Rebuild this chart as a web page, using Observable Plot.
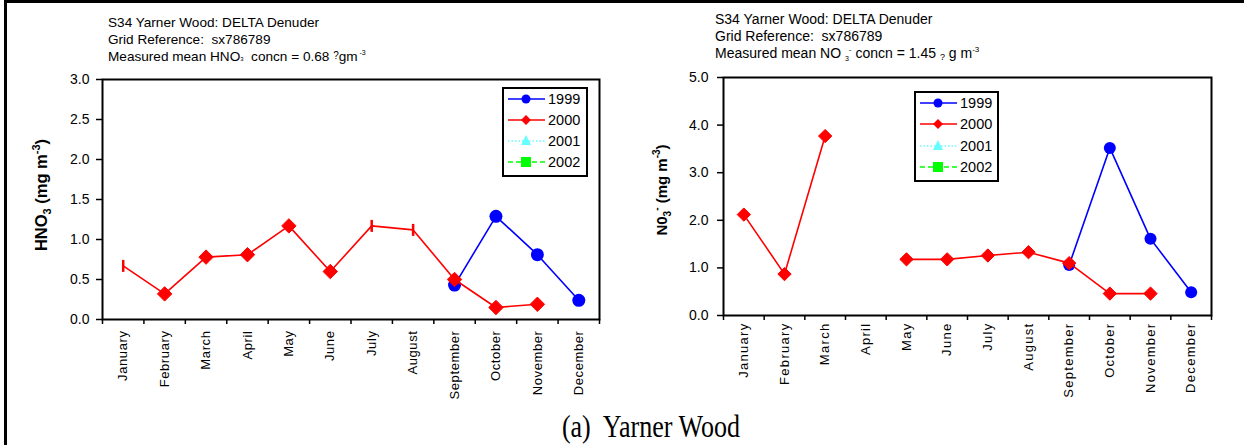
<!DOCTYPE html>
<html><head><meta charset="utf-8">
<script src="https://cdn.jsdelivr.net/npm/d3@7"></script>
<script src="https://cdn.jsdelivr.net/npm/@observablehq/plot@0.6"></script>
<style>
body{margin:0;background:#fff;}
#root{position:relative;width:1244px;height:445px;overflow:hidden;font-family:"Liberation Sans",Arial,sans-serif;color:#000;background:#fff;}
.border{position:absolute;left:4px;top:0;width:1400px;height:600px;border-left:3px solid #000;border-top:3px solid #000;box-sizing:border-box;}
.title{position:absolute;line-height:17px;white-space:nowrap;}
.ylab{position:absolute;font-weight:bold;white-space:nowrap;transform:translate(-50%,-50%) rotate(-90deg);line-height:20px;}
.caption{position:absolute;left:651px;top:411px;font-family:"Liberation Serif","Times New Roman",serif;font-size:31px;line-height:31px;white-space:nowrap;transform:translateX(-50%) scaleX(0.84);transform-origin:50% 50%;}
.plot{position:absolute;top:0;}
.legend{position:absolute;}
.right-chart g[aria-label="x-axis tick label"] text{letter-spacing:1.3px;}
.left-chart g[aria-label="x-axis tick label"] text{letter-spacing:0.6px;}
.sm{position:relative;}
</style>
</head><body>
<div id="root">
  <div class="border"></div>
  <div class="title" style="left:108px;top:14px;font-size:13.6px;">
    S34 Yarner Wood: DELTA Denuder<br>
    Grid Reference:&nbsp; sx786789<br>
    Measured mean HNO<span class="sm" style="font-size:6px;">3</span>&nbsp; concn = 0.68 <span class="sm" style="font-size:10px;top:-2px;">?</span>gm<span class="sm" style="font-size:7px;top:-6px;">&nbsp;-3</span>
  </div>
  <div class="title" style="left:715px;top:11px;font-size:14px;">
    S34 Yarner Wood: DELTA Denuder<br>
    Grid Reference:&nbsp; sx786789<br>
    Measured mean NO <span class="sm" style="font-size:7px;top:3px;">3</span><span class="sm" style="font-size:8px;top:-6px;">-</span>&nbsp;concn = 1.45 <span class="sm" style="font-size:9px;top:2px;">?</span> g m<span class="sm" style="font-size:8px;top:-6px;">-3</span>
  </div>
  <div class="ylab" style="left:42px;top:195px;font-size:16.5px;">HNO<span class="sm" style="font-size:11px;top:4px;">3</span> (mg m<span class="sm" style="font-size:11px;top:-7px;">-3</span>)</div>
  <div class="ylab" style="left:663px;top:190px;font-size:15px;">N0<span class="sm" style="font-size:10px;top:4px;">3</span><span class="sm" style="font-size:10px;top:-7px;">-</span> (mg m<span class="sm" style="font-size:10px;top:-7px;">-3</span>)</div>
  <div id="leftPlot" class="plot" style="left:0;"></div>
  <div id="rightPlot" class="plot" style="left:620px;"></div>
  <div id="leftLegend" class="legend" style="left:502px;top:87px;"></div>
  <div id="rightLegend" class="legend" style="left:914px;top:91px;"></div>
  <div class="caption">(a)&nbsp; Yarner Wood</div>
</div>
<script>
// ---- data ----
const months = ["January","February","March","April","May","June","July","August","September","October","November","December"];
const years = ["1999","2000","2001","2002"];

// HNO3 (left panel)
const hno3_2000 = [0.67, 0.32, 0.78, 0.81, 1.17, 0.60, 1.17, 1.12, 0.50, 0.15, 0.19, null];
const hno3_2000_marker = ["bar","diamond","diamond","diamond","diamond","diamond","bar","bar","diamond","diamond","diamond",null];
const hno3_1999 = [null, null, null, null, null, null, null, null, 0.43, 1.29, 0.81, 0.24];

// NO3- (right panel)
const no3_2000 = [2.12, 0.87, 3.77, null, 1.18, 1.18, 1.26, 1.33, 1.10, 0.46, 0.46, null];
const no3_2000_marker = ["diamond","diamond","diamond",null,"diamond","diamond","diamond","diamond","diamond","diamond","diamond",null];
const no3_1999 = [null, null, null, null, null, null, null, null, 1.06, 3.52, 1.61, 0.49];

const hno3Ticks = [0, 0.5, 1.0, 1.5, 2.0, 2.5, 3.0];
const no3Ticks = [0, 1, 2, 3, 4, 5];

// ---- helpers ----
const rows = (vals, markers) => months.map((m, i) => ({month: m, x: i + 0.5, y: vals[i], marker: markers ? markers[i] : "circle"}));

const barSymbol = {
  draw(ctx, size) {
    const h = Math.sqrt(size / Math.PI);
    ctx.moveTo(0, -h);
    ctx.lineTo(0, h);
  }
};

function chart({v2000, m2000, v1999, yMax, yTicks, width, height, margins, rDot, rDia, cls, tickPadding, labelPadding}) {
  const d2000 = rows(v2000, m2000);
  const d1999 = rows(v1999);
  return Plot.plot({
    width, height,
    marginLeft: margins[0], marginTop: margins[1], marginRight: margins[2], marginBottom: margins[3],
    className: cls,
    style: {fontFamily: "'Liberation Sans', Arial, sans-serif", fontSize: "14px", color: "#000", background: "transparent", overflow: "visible"},
    x: {domain: [0, 12]},
    y: {domain: [0, yMax]},
    marks: [
      Plot.axisY({ticks: yTicks, tickFormat: d => d.toFixed(1), tickSize: 6, tickPadding, strokeWidth: 1.5, fontSize: 14, label: null}),
      Plot.axisX({ticks: d3.range(13), tickSize: 5, tickFormat: () => "", strokeWidth: 1.5, label: null}),
      Plot.axisX({ticks: months.map((m, i) => i + 0.5), tickSize: 0, tickPadding: labelPadding, tickRotate: -90,
                  tickFormat: d => months[Math.floor(d)], fontSize: 13, label: null}),
      Plot.frame({stroke: "#000", strokeWidth: 2}),
      Plot.line(d1999, {x: "x", y: "y", stroke: "#0000ff", strokeWidth: 1.6}),
      Plot.dot(d1999.filter(d => d.y != null), {x: "x", y: "y", symbol: "circle", fill: "#0000ff", stroke: "none", r: rDot}),
      Plot.line(d2000, {x: "x", y: "y", stroke: "#ff0000", strokeWidth: 1.6}),
      Plot.dot(d2000.filter(d => d.marker === "diamond"), {x: "x", y: "y", symbol: "diamond2", fill: "#ff0000", stroke: "#ff0000", strokeWidth: 1, r: rDia}),
      Plot.dot(d2000.filter(d => d.marker === "bar"), {x: "x", y: "y", symbol: barSymbol, fill: "none", stroke: "#ff0000", strokeWidth: 2.5, r: 6})
    ]
  });
}

document.getElementById("leftPlot").append(chart({
  v2000: hno3_2000, m2000: hno3_2000_marker, v1999: hno3_1999, yMax: 3, yTicks: hno3Ticks,
  width: 620, height: 400, margins: [102, 79, 21, 81], rDot: 6.5, rDia: 6.5, cls: "left-chart", tickPadding: 7, labelPadding: 11
}));
document.getElementById("rightPlot").append(chart({
  v2000: no3_2000, m2000: no3_2000_marker, v1999: no3_1999, yMax: 5, yTicks: no3Ticks,
  width: 624, height: 400, margins: [103, 77, 33, 85], rDot: 6, rDia: 6, cls: "right-chart", tickPadding: 9, labelPadding: 7
}));

// ---- legends ----
const legendStyle = [
  {color: "#0000ff", dash: null, symbol: "circle"},
  {color: "#ff0000", dash: null, symbol: "diamond"},
  {color: "#66ffff", dash: "1.5,2", symbol: "triangle"},
  {color: "#00ff00", dash: "5,3", symbol: "square"}
];
function legend(el, w, h, rowYs) {
  let s = `<svg width="${w}" height="${h}" style="display:block;overflow:visible">`;
  s += `<rect x="1" y="1" width="${w - 2}" height="${h - 2}" fill="#fff" stroke="#000" stroke-width="2"/>`;
  years.forEach((yr, i) => {
    const st = legendStyle[i], y = rowYs[i], cx = 24;
    s += `<line x1="6" x2="43" y1="${y}" y2="${y}" stroke="${st.color}" stroke-width="1.6" ${st.dash ? `stroke-dasharray="${st.dash}"` : ""}/>`;
    if (st.symbol === "circle") s += `<circle cx="${cx}" cy="${y}" r="4.5" fill="${st.color}"/>`;
    if (st.symbol === "diamond") s += `<path d="M${cx},${y - 5}L${cx + 5},${y}L${cx},${y + 5}L${cx - 5},${y}Z" fill="${st.color}"/>`;
    if (st.symbol === "triangle") s += `<path d="M${cx},${y - 6}L${cx + 5},${y + 4}L${cx - 5},${y + 4}Z" fill="${st.color}"/>`;
    if (st.symbol === "square") s += `<rect x="${cx - 5}" y="${y - 5}" width="10" height="10" fill="${st.color}"/>`;
    s += `<text x="46" y="${y + 5}" font-family="Liberation Sans, Arial, sans-serif" font-size="14.5" fill="#000">${yr}</text>`;
  });
  s += `</svg>`;
  el.innerHTML = s;
}
legend(document.getElementById("leftLegend"), 86, 90, [12, 33, 54, 75]);
legend(document.getElementById("rightLegend"), 85, 91, [12, 33, 55, 76]);
</script>
</body></html>
